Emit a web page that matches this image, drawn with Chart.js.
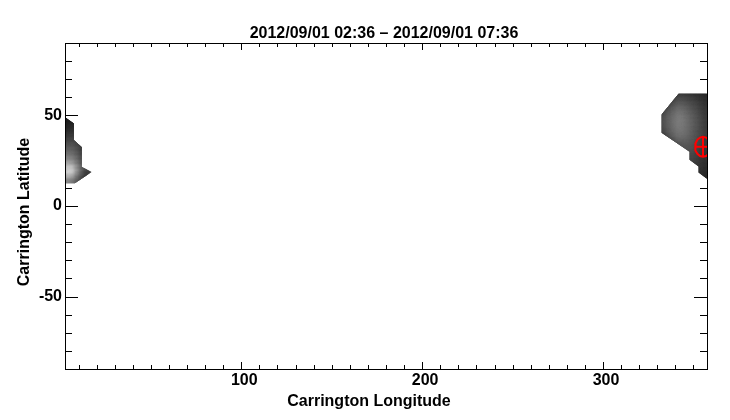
<!DOCTYPE html>
<html>
<head>
<meta charset="utf-8">
<style>body { margin: 0; background: #fff; } canvas { display: block; }</style>
<script src="https://cdn.jsdelivr.net/npm/chart.js@4"></script>
</head>
<body>
<canvas id="chart" width="730" height="420"></canvas>
<script>
const chartTitle = "2012/09/01 02:36 \u2013 2012/09/01 07:36";
const xTitle = "Carrington Longitude";
const yTitle = "Carrington Latitude";

const xMajor = [100, 200, 300];
const xMinor = [10, 20, 30, 40, 50, 60, 70, 80, 90, 110, 120, 130, 140, 150, 160, 170, 180, 190, 210, 220, 230, 240, 250, 260, 270, 280, 290, 310, 320, 330, 340, 350];
const yMajor = [-50, 0, 50];
const yMinor = [-80, -70, -60, -40, -30, -20, -10, 10, 20, 30, 40, 60, 70, 80];

// right patch, one row per latitude
const rightLons = [332.5, 335, 337.5, 340, 342.5, 345, 347.5, 350, 352.5, 355, 357.5];
const rightLats = [62.5, 60, 57.5, 55, 52.5, 50, 47.5, 45, 42.5, 40, 37.5, 35, 32.5, 30, 27.5, 25, 22.5, 20, 17.5, 15];
const rightGrey = [
  [40, 40, 40, 40, 48, 48, 46, 44, 42, 40, 38],
  [40, 40, 40, 52, 64, 62, 58, 54, 50, 46, 42],
  [40, 40, 50, 68, 78, 76, 70, 64, 58, 52, 46],
  [40, 50, 68, 82, 92, 90, 82, 74, 66, 58, 50],
  [48, 64, 82, 96, 106, 102, 92, 82, 72, 62, 54],
  [62, 76, 92, 106, 116, 112, 100, 90, 78, 66, 56],
  [70, 84, 98, 112, 122, 118, 106, 94, 82, 70, 58],
  [72, 86, 100, 114, 124, 120, 108, 96, 84, 72, 60],
  [70, 84, 98, 112, 122, 118, 108, 96, 84, 72, 60],
  [64, 78, 94, 108, 118, 116, 106, 94, 82, 72, 60],
  [50, 66, 84, 100, 112, 110, 102, 92, 80, 70, 58],
  [40, 50, 66, 86, 100, 100, 96, 88, 78, 68, 56],
  [40, 40, 48, 62, 82, 90, 88, 84, 74, 64, 54],
  [40, 40, 40, 48, 68, 80, 84, 80, 70, 60, 52],
  [40, 40, 40, 44, 58, 70, 76, 74, 66, 58, 50],
  [40, 40, 40, 40, 50, 62, 70, 70, 62, 54, 48],
  [40, 40, 40, 40, 46, 56, 64, 64, 58, 52, 46],
  [40, 40, 40, 40, 42, 50, 58, 60, 54, 50, 44],
  [40, 40, 40, 40, 40, 46, 52, 56, 52, 48, 42],
  [40, 40, 40, 40, 40, 44, 50, 52, 48, 44, 40]
];
const rightEdgeLon = [341.8, 332.4, 332.4, 347.9, 347.9, 352.9, 352.9, 357.5, 357.5];
const rightEdgeLat = [62, 50.5, 40.5, 30, 25.6, 21.8, 18.5, 15, 62];

// left patch
const leftLons = [2.5, 5, 7.5, 10, 12.5, 15];
const leftLats = [50, 47.5, 45, 42.5, 40, 37.5, 35, 32.5, 30, 27.5, 25, 22.5, 20, 17.5, 15, 12.5];
const leftGrey = [
  [22, 24, 26, 26, 26, 26],
  [24, 28, 30, 30, 30, 30],
  [28, 32, 36, 36, 36, 36],
  [32, 38, 42, 42, 42, 42],
  [40, 46, 50, 50, 50, 50],
  [50, 56, 60, 54, 46, 46],
  [62, 68, 70, 62, 50, 50],
  [76, 82, 82, 72, 54, 54],
  [92, 96, 94, 80, 60, 60],
  [108, 112, 108, 90, 66, 66],
  [126, 134, 126, 102, 74, 70],
  [146, 166, 150, 116, 84, 76],
  [168, 205, 190, 136, 94, 70],
  [172, 216, 200, 140, 92, 60],
  [150, 180, 160, 112, 76, 50],
  [120, 136, 120, 90, 60, 40]
];
const leftEdgeLon = [2.5, 7.4, 7.4, 11.8, 11.8, 17.2, 8, 2.5];
const leftEdgeLat = [49, 45.5, 36.5, 32.5, 21.5, 18.8, 12.5, 12.5];

// red marker, a slightly squeezed ring with a cross
const ringLon = [359.7, 359.37, 358.41, 356.98, 355.3, 353.62, 352.19, 351.23, 350.9, 351.23, 352.19, 353.62, 355.3, 356.98, 358.41, 359.37, 359.7];
const ringLat = [32.7, 34.8, 36.59, 37.78, 38.2, 37.78, 36.59, 34.8, 32.7, 30.6, 28.81, 27.62, 27.2, 27.62, 28.81, 30.6, 32.7];
const crossHLon = [350.9, 359.7];
const crossHLat = [32.7, 32.7];
const crossVLon = [355.3, 355.3];
const crossVLat = [38.2, 27.2];

function cellData(lons, lats, grey) {
  const pts = [];
  lats.forEach((lat, r) => {
    lons.forEach((lon, c) => pts.push({ x: lon, y: lat, g: grey[r][c] }));
  });
  return pts;
}

function cellDataset(lons, lats, grey, edgeLon, edgeLat) {
  return {
    data: cellData(lons, lats, grey),
    pointStyle: 'rect',
    pointRadius: 6,
    pointBorderWidth: 0,
    backgroundColor: ctx => {
      const g = ctx.raw ? ctx.raw.g : 0;
      return `rgb(${g},${g},${g})`;
    },
    edgeLon: edgeLon,
    edgeLat: edgeLat
  };
}

function markerLine(lons, lats) {
  return {
    data: lons.map((lon, i) => ({ x: lon, y: lats[i] })),
    showLine: true,
    pointRadius: 0,
    borderColor: '#f00',
    borderWidth: 2
  };
}

const patchClip = {
  id: 'patchClip',
  beforeDatasetDraw(chart, args) {
    const ds = chart.data.datasets[args.index];
    if (!ds.edgeLon) return;
    const c = chart.ctx;
    c.save();
    c.beginPath();
    ds.edgeLon.forEach((lon, i) => {
      c.lineTo(chart.scales.x.getPixelForValue(lon), chart.scales.y.getPixelForValue(ds.edgeLat[i]));
    });
    c.closePath();
    c.clip();
    c.filter = 'blur(1.5px)';
  },
  afterDatasetDraw(chart, args) {
    if (chart.data.datasets[args.index].edgeLon) chart.ctx.restore();
  }
};

const frame = {
  id: 'frame',
  // ticks go under the image, the box and the text over it
  beforeDatasetsDraw(chart) {
    const c = chart.ctx;
    const a = chart.chartArea;
    const sx = chart.scales.x;
    const sy = chart.scales.y;
    c.save();
    c.strokeStyle = '#000';
    c.lineWidth = 1;
    c.beginPath();
    const xTick = (v, len) => {
      const p = Math.round(sx.getPixelForValue(v)) + 0.5;
      c.moveTo(p, a.bottom); c.lineTo(p, a.bottom - len);
      c.moveTo(p, a.top); c.lineTo(p, a.top + len);
    };
    const yTick = (v, len) => {
      const p = Math.round(sy.getPixelForValue(v)) + 0.5;
      c.moveTo(a.left, p); c.lineTo(a.left + len, p);
      c.moveTo(a.right, p); c.lineTo(a.right - len, p);
    };
    xMinor.forEach(v => xTick(v, 4));
    xMajor.forEach(v => xTick(v, 7));
    yMinor.forEach(v => yTick(v, 7));
    yMajor.forEach(v => yTick(v, 13));
    c.stroke();
    c.restore();
  },
  afterDraw(chart) {
    const c = chart.ctx;
    const a = chart.chartArea;
    c.save();
    c.strokeStyle = '#000';
    c.lineWidth = 1;
    c.strokeRect(Math.floor(a.left) + 0.5, Math.floor(a.top) + 0.5, Math.round(a.right - a.left), Math.round(a.bottom - a.top));
    c.fillStyle = '#000';
    c.font = 'bold 16px "Liberation Sans"';
    c.textAlign = 'center';
    c.textBaseline = 'middle';
    c.fillText(chartTitle, 384, 33.5);
    c.fillText(xTitle, 369, 402);
    c.translate(25, 212);
    c.rotate(-Math.PI / 2);
    c.fillText(yTitle, 0, 0);
    c.restore();
  }
};

new Chart(document.getElementById("chart").getContext("2d"), {
  type: 'scatter',
  data: {
    datasets: [
      markerLine(ringLon, ringLat),
      markerLine(crossHLon, crossHLat),
      markerLine(crossVLon, crossVLat),
      cellDataset(rightLons, rightLats, rightGrey, rightEdgeLon, rightEdgeLat),
      cellDataset(leftLons, leftLats, leftGrey, leftEdgeLon, leftEdgeLat)
    ]
  },
  options: {
    responsive: false,
    animation: false,
    events: [],
    layout: { padding: { top: 43, right: 23 } },
    plugins: { legend: { display: false }, tooltip: { enabled: false } },
    scales: {
      x: {
        type: 'linear',
        min: 2.5,
        max: 357.5,
        grid: { display: false, drawTicks: false, tickLength: 0 },
        border: { display: false },
        afterFit: s => { s.height = 51; },
        afterBuildTicks: s => { s.ticks = xMajor.map(v => ({ value: v })); },
        ticks: { color: '#000', autoSkip: false, maxRotation: 0, padding: 2, labelOffset: 3, font: { family: '"Liberation Sans"', size: 16, weight: 'bold' } }
      },
      y: {
        type: 'linear',
        min: -90,
        max: 90,
        grid: { display: false, drawTicks: false, tickLength: 0 },
        border: { display: false },
        afterFit: s => { s.width = 65; },
        afterBuildTicks: s => { s.ticks = yMajor.map(v => ({ value: v })); },
        ticks: { color: '#000', autoSkip: false, padding: 3, font: { family: '"Liberation Sans"', size: 16, weight: 'bold' } }
      }
    }
  },
  plugins: [patchClip, frame]
});
</script>
</body>
</html>
